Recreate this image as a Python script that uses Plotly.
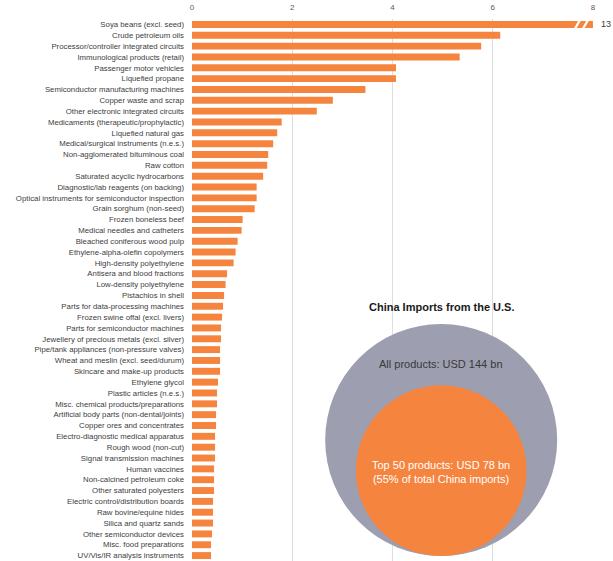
import plotly.graph_objects as go

products = [
    "Soya beans (excl. seed)", "Crude petroleum oils", "Processor/controller integrated circuits",
    "Immunological products (retail)", "Passenger motor vehicles", "Liquefied propane",
    "Semiconductor manufacturing machines", "Copper waste and scrap", "Other electronic integrated circuits",
    "Medicaments (therapeutic/prophylactic)", "Liquefied natural gas", "Medical/surgical instruments (n.e.s.)",
    "Non-agglomerated bituminous coal", "Raw cotton", "Saturated acyclic hydrocarbons",
    "Diagnostic/lab reagents (on backing)", "Optical instruments for semiconductor inspection",
    "Grain sorghum (non-seed)", "Frozen boneless beef", "Medical needles and catheters",
    "Bleached coniferous wood pulp", "Ethylene-alpha-olefin copolymers", "High-density polyethylene",
    "Antisera and blood fractions", "Low-density polyethylene", "Pistachios in shell",
    "Parts for data-processing machines", "Frozen swine offal (excl. livers)",
    "Parts for semiconductor machines", "Jewellery of precious metals (excl. silver)",
    "Pipe/tank appliances (non-pressure valves)", "Wheat and meslin (excl. seed/durum)",
    "Skincare and make-up products", "Ethylene glycol", "Plastic articles (n.e.s.)",
    "Misc. chemical products/preparations", "Artificial body parts (non-dental/joints)",
    "Copper ores and concentrates", "Electro-diagnostic medical apparatus", "Rough wood (non-cut)",
    "Signal transmission machines", "Human vaccines", "Non-calcined petroleum coke",
    "Other saturated polyesters", "Electric control/distribution boards", "Raw bovine/equine hides",
    "Silica and quartz sands", "Other semiconductor devices", "Misc. food preparations",
    "UV/Vis/IR analysis instruments",
]
values_bn = [
    13.0, 6.15, 5.77, 5.34, 4.07, 4.07, 3.46, 2.81, 2.49, 1.79,
    1.70, 1.62, 1.52, 1.50, 1.42, 1.29, 1.29, 1.25, 1.01, 0.99,
    0.91, 0.87, 0.83, 0.70, 0.67, 0.64, 0.62, 0.60, 0.58, 0.58,
    0.56, 0.56, 0.56, 0.52, 0.50, 0.50, 0.48, 0.48, 0.46, 0.46,
    0.46, 0.44, 0.44, 0.44, 0.42, 0.42, 0.42, 0.40, 0.38, 0.38,
]
axis_max = 8
tick_vals = [0, 2, 4, 6, 8]
total_all_bn = 144
total_top50_bn = 78
share_pct = 55

ORANGE = "#F5843F"
GRAY = "#9D9EB0"

shown = [min(v, axis_max) for v in values_bn]
labels = [f"{v:g}" if v > axis_max else "" for v in values_bn]

fig = go.Figure()
fig.add_trace(go.Bar(
    y=products, x=shown, orientation="h",
    marker=dict(color=ORANGE, line=dict(width=0)),
    text=labels, texttemplate="  %{text}", textposition="outside",
    cliponaxis=False, constraintext="none",
    textfont=dict(family="Liberation Sans, Arial", size=9, color="#404040"),
    hoverinfo="skip", width=0.64,
))

# break marks on the clipped bar
for i, v in enumerate(values_bn):
    if v > axis_max:
        for off in (0.0, 0.16):
            x0 = axis_max - 0.36 + off
            fig.add_shape(type="line", xref="x", yref="y",
                          x0=x0, x1=x0 + 0.1, y0=i + 0.4, y1=i - 0.4,
                          line=dict(color="white", width=2.2), layer="above")

# bubble comparison
r_all = 116
r_top = r_all * (total_top50_bn / total_all_bn) ** 0.5
cx, by = 0.6214, 0.0092
for r, col in ((r_all, GRAY), (r_top, ORANGE)):
    fig.add_shape(type="circle", xref="paper", yref="paper",
                  xsizemode="pixel", ysizemode="pixel", xanchor=cx, yanchor=by,
                  x0=-r, x1=r, y0=0, y1=2 * r,
                  fillcolor=col, line=dict(width=0), layer="above")

font_fam = "Liberation Sans, Arial"
fig.add_annotation(xref="paper", yref="paper", x=cx, y=by, yshift=249, yanchor="middle",
                   text="<b>China Imports from the U.S.</b>", showarrow=False,
                   font=dict(family=font_fam, size=11, color="#1a1a1a"))
fig.add_annotation(xref="paper", yref="paper", x=cx, y=by, yshift=192, yanchor="middle",
                   text=f"All products: USD {total_all_bn} bn", showarrow=False,
                   font=dict(family=font_fam, size=11, color="#3a3a3a"))
fig.add_annotation(xref="paper", yref="paper", x=cx, y=by, yshift=84, yanchor="middle",
                   text=f"Top 50 products: USD {total_top50_bn} bn<br>({share_pct}% of total China imports)",
                   showarrow=False,
                   font=dict(family=font_fam, size=11, color="white"))

fig.update_layout(
    width=613, height=561,
    margin=dict(l=192, r=20, t=19, b=0, pad=0),
    paper_bgcolor="white", plot_bgcolor="white",
    showlegend=False, bargap=0.38,
    xaxis=dict(side="top", range=[0, axis_max + 0.001], tickvals=tick_vals,
               showgrid=True, gridcolor="#DEDEDE", gridwidth=1, zeroline=False,
               showline=False, ticks="", ticklabelstandoff=6,
               tickfont=dict(family=font_fam, size=8, color="#595959")),
    yaxis=dict(type="category", showgrid=False, zeroline=False, showline=False, ticks="",
               ticklabelstandoff=7,
               tickfont=dict(family=font_fam, size=7.8, color="#404040")),
)
fig.update_yaxes(range=[len(products) - 0.5, -0.5], autorange=False)

fig.write_html("out.html")
